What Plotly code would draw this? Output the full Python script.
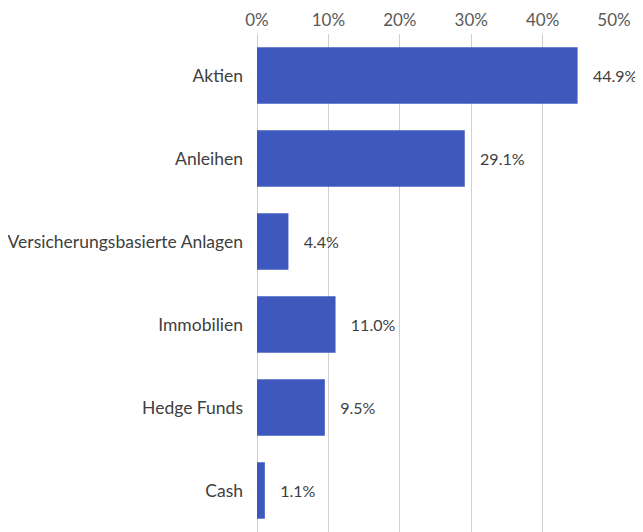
import plotly.graph_objects as go

categories = ["Aktien", "Anleihen", "Versicherungsbasierte Anlagen", "Immobilien", "Hedge Funds", "Cash"]
values = [44.9, 29.1, 4.4, 11.0, 9.5, 1.1]
tick_vals = [0, 10, 20, 30, 40, 50]
tick_text = ["0%", "10%", "20%", "30%", "40%", "50%"]

fig = go.Figure(go.Bar(
    y=categories, x=values, orientation="h",
    marker=dict(color="#3F58BE", line=dict(width=0)),
    text=["   %.1f%%" % v for v in values],
    textposition="outside", cliponaxis=False,
    textfont=dict(family="Lato, Open Sans, sans-serif", size=16, color="#404040"),
))
fig.update_layout(
    width=635, height=524,
    margin=dict(l=249, r=29, t=26, b=0),
    plot_bgcolor="white", paper_bgcolor="white",
    bargap=0.32, showlegend=False,
    font=dict(family="Lato, Open Sans, sans-serif", size=16, color="#404040"),
)
fig.update_xaxes(side="top", range=[0, 50], tickvals=tick_vals, ticktext=tick_text,
                 showgrid=True, gridcolor="#D0D0D0", gridwidth=1, zeroline=True,
                 zerolinecolor="#D0D0D0", zerolinewidth=1, showline=False,
                 tickfont=dict(size=17, color="#595959"), ticks="",
                 automargin=False, ticklabelstandoff=4)
fig.update_yaxes(autorange="reversed", showgrid=False, ticks="", ticklabelstandoff=13,
                 tickfont=dict(size=17.5, color="#404040"), automargin=False)
fig.write_html("out.html")
